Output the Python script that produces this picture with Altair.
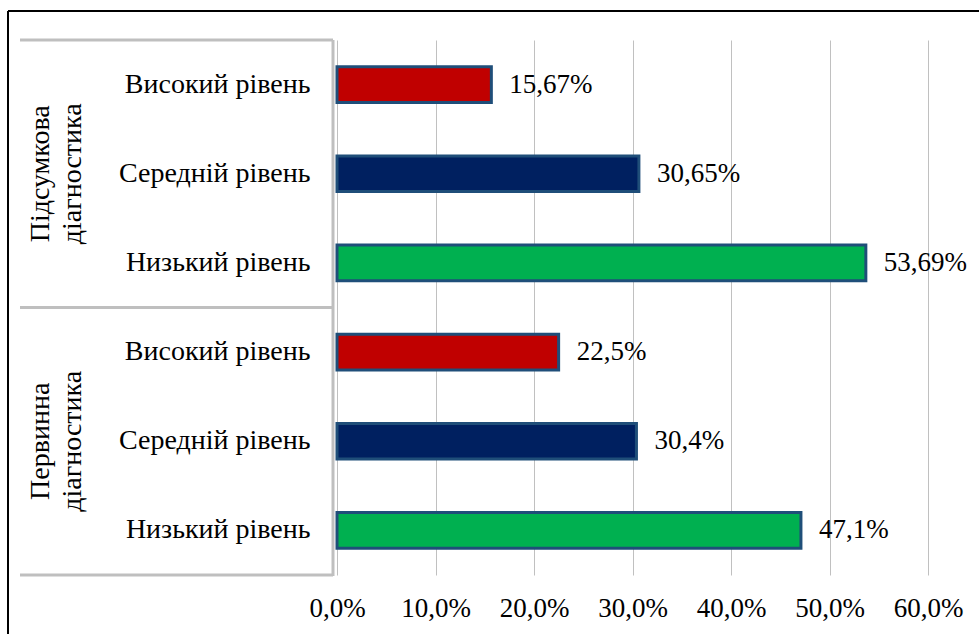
import altair as alt
import pandas as pd

# Diagnostic stages (top to bottom) and levels within each stage
stages = ["Підсумкова діагностика", "Первинна діагностика"]
stage_lines = [["Підсумкова", "діагностика"], ["Первинна", "діагностика"]]
levels = ["Високий рівень", "Середній рівень", "Низький рівень"]
level_colors = ["#c00000", "#002060", "#00b050"]

# Share of pupils, % (per stage, in the order of `levels`)
final_values = [15.67, 30.65, 53.69]
initial_values = [22.5, 30.4, 47.1]

x_ticks = [0, 0.1, 0.2, 0.3, 0.4, 0.5, 0.6]

W, H = 591, 535
FONT = "'Times New Roman', 'Liberation Serif', 'DejaVu Serif', serif"
FS_TEXT = 28   # category and stage captions
FS_NUM = 27    # numbers

rows = []
for s_idx, (stage, vals) in enumerate(zip(stages, [final_values, initial_values])):
    for l_idx, (lvl, v) in enumerate(zip(levels, vals)):
        rows.append({
            "key": f"{s_idx}-{l_idx}",
            "stage": stage,
            "level": lvl,
            "share": v / 100.0,
            "label": f"{v:g}".replace(".", ",") + "%",
        })
df = pd.DataFrame(rows)
order = list(df["key"])
key_to_level = {r["key"]: r["level"] for r in rows}
label_expr = "{" + ",".join(f"'{k}':'{v}'" for k, v in key_to_level.items()) + "}[datum.value]"

y_scale = alt.Scale(domain=order, paddingInner=0, paddingOuter=0)
x_scale = alt.Scale(domain=[0, 0.6], nice=False)

base = alt.Chart(df)

bars = base.mark_bar(
    height=alt.RelativeBandSize(0.4), stroke="#1f4e79", strokeWidth=3
).encode(
    y=alt.Y("key:N", scale=y_scale, sort=order, title=None,
            axis=alt.Axis(labelExpr=label_expr, domain=False, ticks=False,
                          labelPadding=27, labelFont=FONT, labelFontSize=FS_TEXT,
                          labelColor="#000000", labelLimit=400)),
    x=alt.X("share:Q", scale=x_scale, title=None,
            axis=alt.Axis(values=x_ticks, domain=False, ticks=False,
                          labelExpr="replace(format(datum.value, '.1%'), '.', ',')",
                          labelPadding=20, labelFont=FONT, labelFontSize=FS_NUM,
                          labelColor="#000000", labelOverlap=False,
                          labelFlush=False, grid=True, gridColor="#c0c0c0",
                          gridWidth=1)),
    color=alt.Color("level:N", scale=alt.Scale(domain=levels, range=level_colors),
                    legend=None),
)

values_text = base.mark_text(
    align="left", baseline="middle", dx=18, font=FONT, fontSize=FS_NUM,
    color="#000000"
).encode(
    y=alt.Y("key:N", scale=y_scale, sort=order),
    x=alt.X("share:Q", scale=x_scale),
    text="label:N",
)

# Stage captions, rotated, centred on the middle level of each stage
stage_df = pd.DataFrame({
    "key": [f"{i}-1" for i in range(len(stages))],
    "caption": stage_lines,
})
stage_text = alt.Chart(stage_df).mark_text(
    angle=270, align="center", baseline="middle", font=FONT, fontSize=FS_TEXT,
    lineHeight=32, color="#000000"
).encode(
    y=alt.Y("key:N", scale=y_scale, sort=order),
    x=alt.value(-296),
    text="caption",
)

# Grey frame of the category axis
sep_top_df = pd.DataFrame({"key": [f"{i}-0" for i in range(len(stages))]})
sep_top = alt.Chart(sep_top_df).mark_rule(color="#bfbfbf", strokeWidth=3).encode(
    y=alt.Y("key:N", scale=y_scale, sort=order, bandPosition=0),
    x=alt.value(-317), x2=alt.value(-4),
)
sep_bottom = alt.Chart(pd.DataFrame({"key": [order[-1]]})).mark_rule(
    color="#bfbfbf", strokeWidth=3
).encode(
    y=alt.Y("key:N", scale=y_scale, sort=order, bandPosition=1),
    x=alt.value(-317), x2=alt.value(-4),
)
sep_vert = alt.Chart(pd.DataFrame({"k": [0]})).mark_rule(
    color="#bfbfbf", strokeWidth=3
).encode(x=alt.value(-4), y=alt.value(0), y2=alt.value(H + 1))

# Outer frame edges (top and left)
frame_top = alt.Chart(pd.DataFrame({"k": [0]})).mark_rule(
    color="#000000", strokeWidth=2
).encode(x=alt.value(-329), x2=alt.value(W + 60), y=alt.value(-29))
frame_left = alt.Chart(pd.DataFrame({"k": [0]})).mark_rule(
    color="#000000", strokeWidth=2
).encode(x=alt.value(-329), y=alt.value(-29), y2=alt.value(H + 70))

chart = alt.layer(
    bars, values_text, stage_text, sep_top, sep_bottom, sep_vert, frame_top, frame_left
).properties(
    width=W, height=H,
    padding={"left": 337, "top": 40, "right": 51, "bottom": 59},
    autosize=alt.AutoSizeParams(type="none"),
    background="#ffffff",
).configure_view(stroke=None)

chart.save("out.html", embed_options={"renderer": "svg", "actions": False})
